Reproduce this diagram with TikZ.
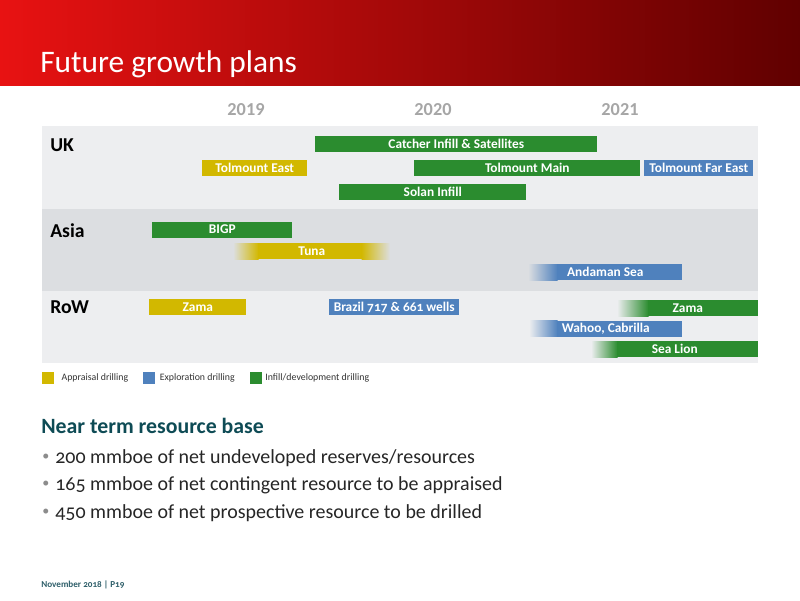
\documentclass[tikz,border=0pt]{standalone}
\usepackage{fontspec}
\setmainfont{Carlito}[Numbers=OldStyle]
\newfontfamily\yearfont{Carlito}[Numbers=Lining]
\usetikzlibrary{positioning}

\definecolor{hdrleft}{HTML}{E81212}
\definecolor{hdrright}{HTML}{600000}
\definecolor{bandlight}{HTML}{EDEEF0}
\definecolor{banddark}{HTML}{DCDEE1}
\definecolor{grn}{HTML}{2B8C2F}
\definecolor{ylw}{HTML}{D2B800}
\definecolor{blu}{HTML}{4F81BD}
\definecolor{yeargray}{HTML}{A6A6A6}
\definecolor{keygray}{HTML}{333333}
\definecolor{teal}{HTML}{0E4B55}
\definecolor{footteal}{HTML}{2F5F6A}
\definecolor{bulgray}{HTML}{8C8C8C}

\tikzset{
  bar/.style={fill=#1, text=white, font=\bfseries\fontsize{9.5}{10}\selectfont,
    minimum height=0.4cm, inner sep=0pt, anchor=west},
  span/.style={minimum width=#1*0.025cm},
  region/.style={font=\bfseries\fontsize{14}{16}\selectfont, anchor=west, inner sep=0pt},
  year/.style={font=\yearfont\bfseries\fontsize{13}{15}\selectfont, text=yeargray},
  key/.style={fill=#1, minimum size=0.3cm, inner sep=0pt},
  keytext/.style={font=\fontsize{7}{8}\selectfont, text=keygray, inner sep=0pt},
  point/.style={font=\fontsize{14.2}{16}\selectfont, text=black!85, anchor=base west, inner sep=0pt},
  bul/.style={font=\fontsize{10}{12}\selectfont, text=bulgray, anchor=base west, inner sep=0pt}
}

\begin{document}
\begin{tikzpicture}[x=0.025cm, y=-0.025cm]
  \useasboundingbox (0,0) rectangle (800,600);
  % header
  \shade[left color=hdrleft, right color=hdrright] (0,0) rectangle (800,85);
  \node[anchor=base west, inner sep=0pt, text=white, font=\fontsize{22.3}{26}\selectfont] (title) at (40,72) {Future growth plans};
  %
  % bands
  \fill[bandlight] (42,126) rectangle (758,209);
  \fill[banddark] (42,209) rectangle (758,291);
  \fill[bandlight] (42,291) rectangle (758,363);
  \node[region] (uk) at (50,145) {UK};
  \node[region] (asia) at (50,231) {Asia};
  \node[region] (row) at (50,307) {RoW};
  %
  \node[year] (y2019) at (246,110) {2019};
  \node[year] (y2020) at (433,110) {2020};
  \node[year] (y2021) at (620,110) {2021};
  %
  % UK
  \node[bar=grn, span=282] (catcher) at (315,144) {Catcher Infill \& Satellites};
  \node[bar=ylw, span=105] (tolEast) at (202,168) {Tolmount East};
  \node[bar=grn, span=226] (tolMain) at (414,168) {Tolmount Main};
  \node[bar=blu, span=109] (tolFar) at (644,168) {Tolmount Far East};
  \node[bar=grn, span=187] (solan) at (339,192) {Solan Infill};
  %
  % Asia
  \node[bar=grn, span=140] (bigp) at (152,229.5) {BIGP};
  \shade[left color=banddark, right color=ylw] (233,243) rectangle (258.5,259);
  \fill[ylw] (258,243) rectangle (362,259);
  \shade[left color=ylw, right color=banddark] (361.5,243) rectangle (390,259);
  \node[bar=none, span=157] (tuna) at (233,251) {Tuna};
  \shade[left color=banddark, right color=blu] (528,264) rectangle (557.5,280);
  \fill[blu] (557,264) rectangle (682,280);
  \node[bar=none, span=154] (andaman) at (528,272) {Andaman Sea};
  %
  % RoW
  \node[bar=ylw, span=97] (zamaApp) at (149,307) {Zama};
  \node[bar=blu, span=130] (brazil) at (329,307) {Brazil 717 \& 661 wells};
  \shade[left color=bandlight, right color=grn] (617,300) rectangle (648.5,316);
  \fill[grn] (648,300) rectangle (758,316);
  \node[bar=none, span=141] (zamaDev) at (617,308) {Zama};
  \shade[left color=bandlight, right color=blu] (529,320.5) rectangle (557.5,336.5);
  \fill[blu] (557,320.5) rectangle (682,336.5);
  \node[bar=none, span=153] (wahoo) at (529,328.5) {Wahoo, Cabrilla};
  \shade[left color=bandlight, right color=grn] (591,341) rectangle (617.5,357);
  \fill[grn] (617,341) rectangle (758,357);
  \node[bar=none, span=167] (sealion) at (591,349) {Sea Lion};
  %
  % legend
  \node[key=ylw] (keyApp) at (48,378) {};
  \node[keytext, right=5pt of keyApp] (txtApp) {Appraisal drilling};
  \node[key=blu] (keyExp) at (149,378) {};
  \node[keytext, right=3pt of keyExp] (txtExp) {Exploration drilling};
  \node[key=grn] (keyDev) at (256,378) {};
  \node[keytext, right=2pt of keyDev] (txtDev) {Infill/development drilling};
  %
  % resource base
  \node[anchor=base west, inner sep=0pt, text=teal, font=\bfseries\fontsize{15.5}{18}\selectfont] (nearterm) at (41,433) {Near term resource base};
  \node[bul] (b1) at (42,460) {\textbullet};
  \node[point] (pt1) at (55,463) {200 mmboe of net undeveloped reserves/resources};
  \node[bul] (b2) at (42,487) {\textbullet};
  \node[point] (pt2) at (55,490) {165 mmboe of net contingent resource to be appraised};
  \node[bul] (b3) at (42,515) {\textbullet};
  \node[point] (pt3) at (55,518) {450 mmboe of net prospective resource to be drilled};
  %
  \node[anchor=base west, inner sep=0pt, text=footteal, font=\bfseries\fontsize{6.5}{8}\selectfont] (footer) at (41,587) {November 2018 | P19};
\end{tikzpicture}
\end{document}
